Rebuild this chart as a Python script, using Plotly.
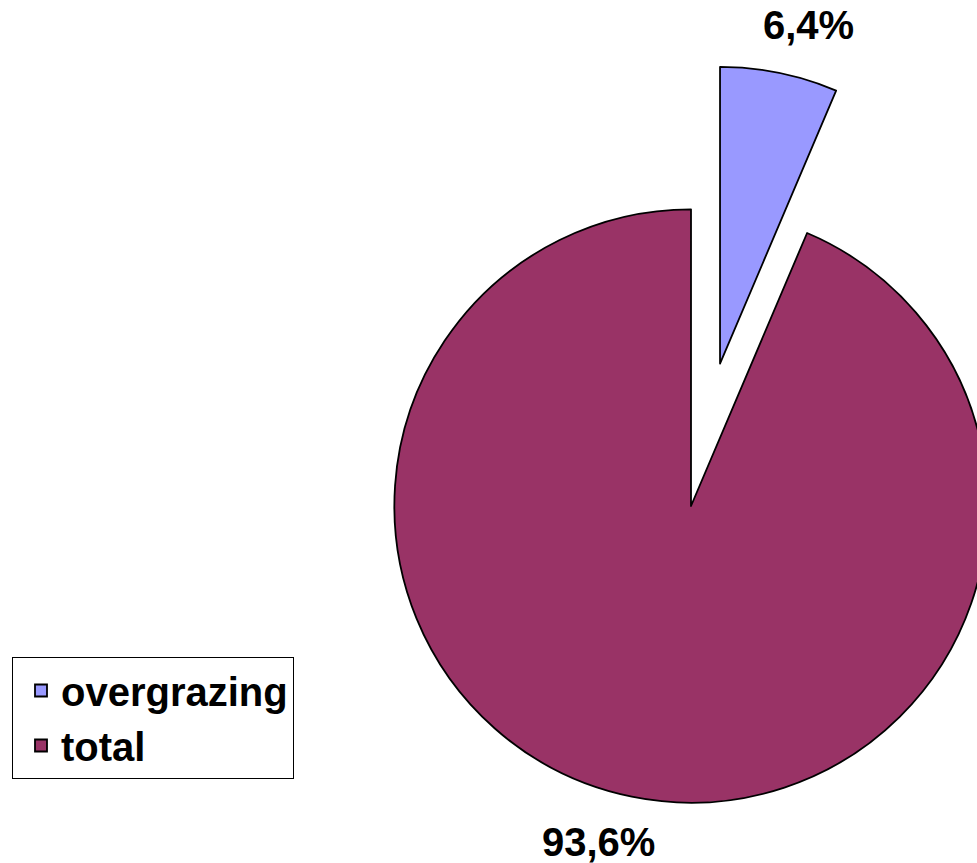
import plotly.graph_objects as go

labels = ["overgrazing", "total"]
values = [6.4, 93.6]
colors = ["#9999FF", "#993366"]
pulls = [0.49, 0.0]

W, H = 1133, 948
ML, MT = 249, 64
FONT = "Liberation Sans, Arial, sans-serif"

fig = go.Figure(go.Pie(
    labels=labels,
    values=values,
    pull=pulls,
    sort=False,
    direction="clockwise",
    rotation=0,
    marker=dict(colors=colors, line=dict(color="#000000", width=1.8)),
    textinfo="none",
    hoverinfo="label+percent",
    domain=dict(x=[0, 1], y=[0, 1]),
))

# percentage labels, text computed from the data
total_sum = sum(values)
label_px = [(808, 25), (598, 842)]  # pixel centres of the labels
for v, (px, py) in zip(values, label_px):
    txt = f"{v / total_sum * 100:.1f}%".replace(".", ",")
    fig.add_annotation(
        text=txt, xref="paper", yref="paper",
        x=(px - ML) / (W - ML), y=1 - (py - MT) / (H - MT),
        xanchor="center", yanchor="middle", showarrow=False,
        font=dict(family=FONT, size=40, color="#000000", weight="bold"),
    )

fig.update_layout(
    width=W, height=H,
    margin=dict(l=ML, t=MT, r=0, b=0, pad=0, autoexpand=False),
    paper_bgcolor="#FFFFFF",
    plot_bgcolor="#FFFFFF",
    font=dict(family=FONT, color="#000000"),
    showlegend=True,
    legend=dict(
        x=(12 - ML) / (W - ML), y=1 - (657 - MT) / (H - MT),
        xanchor="left", yanchor="top",
        bgcolor="#FFFFFF", bordercolor="#000000", borderwidth=1,
        font=dict(family=FONT, size=40, color="#000000", weight="bold"),
        traceorder="normal",
        indentation=8,
    ),
)

fig.write_html(
    "out.html",
    post_script="document.documentElement.style.overflow='hidden';document.body.style.overflow='hidden';document.body.style.margin='0';",
)
